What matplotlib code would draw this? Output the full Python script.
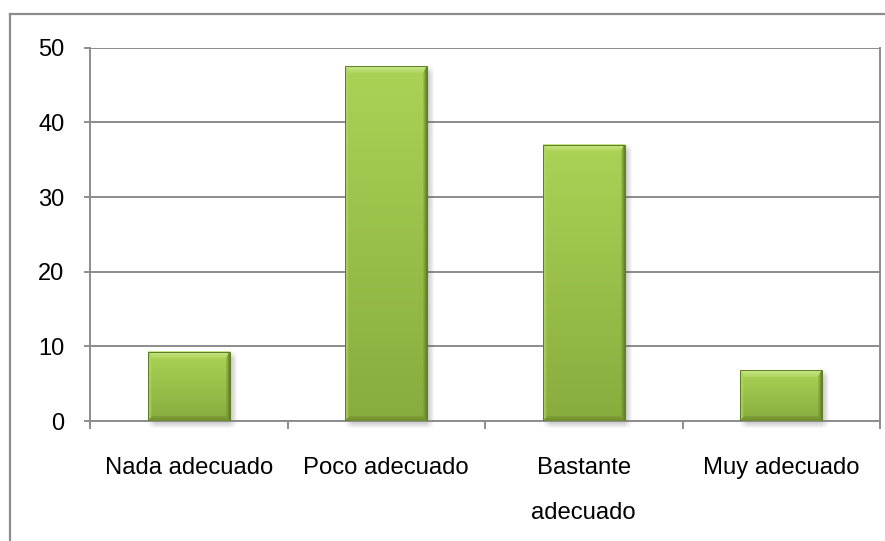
import numpy as np
import matplotlib
matplotlib.use("Agg")
import matplotlib.pyplot as plt
from matplotlib.lines import Line2D

# valoración de la adecuación (porcentaje de respuestas)
categorias = ['Nada adecuado', 'Poco adecuado', 'Bastante\nadecuado', 'Muy adecuado']
valores = [9.3, 47.5, 37.0, 6.8]
ticks_y = [0, 10, 20, 30, 40, 50]

plt.rcParams['font.family'] = ['Liberation Sans', 'DejaVu Sans']

W, H, DPI = 885, 541, 100
GRIS = '#8c8c8c'


def hexrgb(c):
    c = c.lstrip('#')
    return np.array([int(c[k:k + 2], 16) for k in (0, 2, 4)]) / 255.0


def barra_biselada(hp, wp, anchos=(7, 5, 4, 4)):
    """Imagen RGB de una barra con bisel (estilo Excel), tamaño en pixeles.
    anchos: bisel superior, inferior, izquierdo, derecho."""
    hp = max(int(round(hp)), 2)
    wp = max(int(round(wp)), 2)
    i = np.arange(hp)[:, None] * np.ones((1, wp))
    j = np.ones((hp, 1)) * np.arange(wp)[None, :]
    d = np.stack([i / anchos[0], (hp - 1 - i) / anchos[1],
                  j / anchos[2], (wp - 1 - j) / anchos[3]])
    zona = np.argmin(d, axis=0)
    dmin = np.min(d, axis=0)

    # cara con degradado vertical (más clara arriba)
    t = i / max(hp - 1, 1)
    cara_a, cara_b = hexrgb('#aad356'), hexrgb('#88ac3e')
    img = cara_a[None, None, :] * (1 - t[..., None]) + cara_b[None, None, :] * t[..., None]

    col = {0: (hexrgb('#c6e584'), hexrgb('#aed55c')),
           1: (hexrgb('#6f8f2c'), hexrgb('#82a33a')),
           2: (hexrgb('#b0d661'), None),
           3: (hexrgb('#66852a'), None)}
    for z, (ext, inn) in col.items():
        m = (zona == z) & (dmin < 1)
        s = dmin[..., None]
        fin = img if inn is None else inn[None, None, :]
        c = ext[None, None, :] * (1 - s) + fin * s
        img[m] = c[m]
    return np.clip(img, 0, 1)


def sombra(hp, wp, pad=8, off=3, blur=4.0):
    """Sombra difusa gris (RGBA) alrededor de la barra."""
    hp = int(round(hp)) + 2 * pad
    wp = int(round(wp)) + 2 * pad
    y = np.arange(hp) - pad - off
    x = np.arange(wp) - pad - off
    h0, w0 = hp - 2 * pad, wp - 2 * pad

    def paso(u, n):
        a = np.clip((u + blur) / (2 * blur), 0, 1)
        c = np.clip((n - u + blur) / (2 * blur), 0, 1)
        return np.minimum(a, c)

    alpha = np.outer(paso(y, h0), paso(x, w0)) * 0.4
    rgba = np.zeros((hp, wp, 4))
    rgba[..., :3] = 0.35
    rgba[..., 3] = alpha
    return rgba


fig = plt.figure(figsize=(W / DPI, H / DPI), dpi=DPI)
fig.patch.set_facecolor('white')

x0, x1 = 90, 880
y0, y1 = 421, 47.7
ax = fig.add_axes([x0 / W, (H - y0) / H, (x1 - x0) / W, (y0 - y1) / H])

n = len(categorias)
pos = np.arange(n)
ancho = 0.415

barras = ax.bar(pos, valores, width=ancho, color='none', edgecolor='none', zorder=3)

px_x = (x1 - x0) / n          # pixeles por categoría
px_y = (y0 - y1) / 50.0       # pixeles por unidad
pad = 8
for r, v in zip(barras, valores):
    bx, bw = r.get_x(), r.get_width()
    hp, wp = v * px_y, bw * px_x
    ax.imshow(sombra(hp, wp, pad=pad),
              extent=[bx - pad / px_x, bx + bw + pad / px_x, -pad / px_y, v + pad / px_y],
              aspect='auto', interpolation='bilinear', zorder=2.5, clip_on=False)
    ax.imshow(barra_biselada(hp, wp), extent=[bx, bx + bw, 0, v],
              aspect='auto', interpolation='bilinear', zorder=3)
    ax.add_patch(plt.Rectangle((bx, 0), bw, v, fill=False, edgecolor='#5d7a28',
                               linewidth=0.7, zorder=3.5))

ax.set_xlim(-0.5, n - 0.5)
ax.set_ylim(0, 50)

# rejilla horizontal
ax.set_yticks(ticks_y)
ax.yaxis.grid(True, color=GRIS, linewidth=1.4)
ax.set_axisbelow(True)

# marcas del eje x entre categorías, etiquetas centradas
ax.set_xticks(np.arange(-0.5, n, 1.0))
ax.set_xticklabels([])
ax.set_xticks(pos, minor=True)
ax.set_xticklabels(categorias, minor=True, fontsize=17.2, linespacing=2.35, va='top')
ax.tick_params(axis='x', which='major', length=5.5, width=1.4, color=GRIS, direction='out')
ax.tick_params(axis='x', which='minor', length=0, pad=26)
ax.tick_params(axis='y', length=4.5, width=1.4, color=GRIS, labelsize=17, pad=14)

for lado in ('left', 'bottom', 'right'):
    ax.spines[lado].set_color(GRIS)
    ax.spines[lado].set_linewidth(1.4)
ax.spines['top'].set_visible(False)
ax.patch.set_alpha(0)

# borde exterior del gráfico
fig.add_artist(Line2D([10 / W, 10 / W], [0, 1 - 14 / H], color=GRIS, linewidth=1.6))
fig.add_artist(Line2D([10 / W, 1], [1 - 14 / H, 1 - 14 / H], color=GRIS, linewidth=1.6))

fig.savefig('out.png', dpi=DPI)
